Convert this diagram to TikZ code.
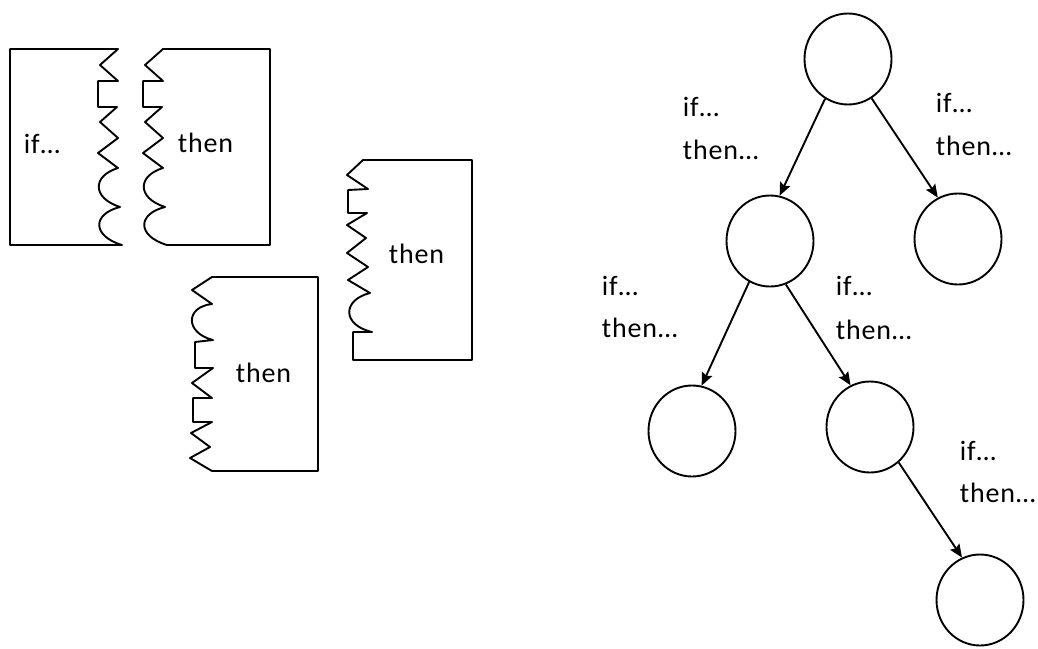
\documentclass[tikz,border=0pt]{standalone}
\usepackage{fontspec}
\setmainfont[LetterSpace=3]{Carlito}
\usetikzlibrary{shapes.geometric, arrows.meta}

\begin{document}
\begin{tikzpicture}[x=1pt, y=-1pt, line width=1.9pt, line join=round,
        >={Stealth[length=13pt, width=11pt, inset=2pt]},
        state/.style={ellipse, draw, minimum width=87pt, minimum height=91pt, inner sep=0pt},
        lbl/.style={inner sep=0pt, anchor=base west, font=\fontsize{28}{34}\selectfont}]
    \useasboundingbox (0,0) rectangle (1038,648);

    % puzzle pieces
    \draw (118,49) -- (10,49) -- (10,245) -- (122,245)
        .. controls (92,236) and (92,214) .. (120,207)
        .. controls (92,198) and (92,176) .. (118,168)
        -- (98,153) -- (118,138) -- (100,122) -- (117,107) -- (98,107) -- (98,81) -- (118,81)
        -- (100,65) -- cycle;
    \draw (163,49) -- (270,49) -- (270,245) -- (167,245)
        .. controls (137,236) and (137,214) .. (165,207)
        .. controls (137,198) and (137,176) .. (163,168)
        -- (143,153) -- (163,138) -- (145,122) -- (162,107) -- (143,107) -- (143,81) -- (163,81)
        -- (145,65) -- cycle;
    \draw (363,160) -- (472,160) -- (472,360) -- (353,360) -- (353,332) -- (372,332)
        .. controls (342,325) and (342,300) .. (370,293)
        -- (348,280) -- (368,267) -- (347,253) -- (366,238) -- (347,225) -- (367,213)
        -- (348,213) -- (348,190) -- (368,189) -- (347,175) -- cycle;
    \draw (212,277) -- (318,277) -- (318,471) -- (212,471) -- (190,458) -- (210,447)
        -- (191,433) -- (212,422) -- (193,422) -- (193,398) -- (212,398) -- (192,383)
        -- (213,368) -- (195,368) -- (195,342) -- (213,340)
        .. controls (185,333) and (185,307) .. (212,304) -- (192,290) -- cycle;
    \node[lbl] (ifp) at (23,153) {if…};
    \node[lbl] (thenp1) at (177,152) {then};
    \node[lbl] (thenp2) at (388,263) {then};
    \node[lbl] (thenp3) at (235,382) {then};

    % tree
    \node[state] (root) at (848,59) {};
    \node[state] (a) at (770,241) {};
    \node[state] (b) at (958,239) {};
    \node[state] (c) at (692,431) {};
    \node[state] (d) at (870,427) {};
    \node[state] (e) at (980,600) {};
    \draw[->] (root.240) -- (a.78);
    \draw[->] (root.301) -- (b.116);
    \draw[->] (a.243) -- (c.78);
    \draw[->] (a.290) -- (d.115);
    \draw[->] (d.309) -- (e.113);

    \node[lbl] (if1) at (682,116) {if…};
    \node[lbl] (then1) at (682,159) {then…};
    \node[lbl] (if2) at (935,112) {if…};
    \node[lbl] (then2) at (935,155) {then…};
    \node[lbl] (if3) at (601,295) {if…};
    \node[lbl] (then3) at (601,337) {then…};
    \node[lbl] (if4) at (835,295) {if…};
    \node[lbl] (then4) at (835,339) {then…};
    \node[lbl] (if5) at (959,460) {if…};
    \node[lbl] (then5) at (959,502) {then…};
\end{tikzpicture}
\end{document}
